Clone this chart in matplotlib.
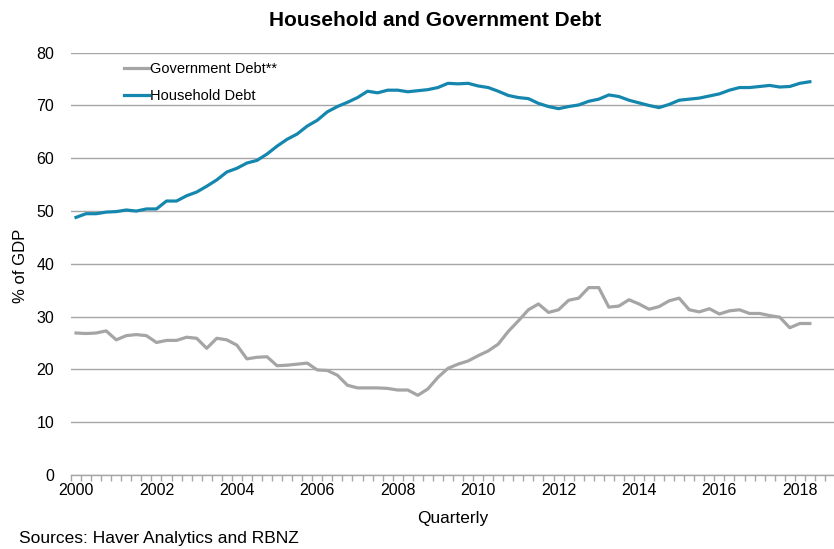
import numpy as np
import matplotlib.pyplot as plt
from matplotlib.ticker import FixedLocator

plt.rcParams['font.family'] = ['Liberation Sans', 'DejaVu Sans']

# quarterly data, 2000Q1 - 2018Q2 (% of GDP)
household = [48.8, 49.5, 49.5, 49.8, 49.9, 50.2, 50.0, 50.4, 50.4, 51.9,
             51.9, 52.9, 53.6, 54.7, 55.9, 57.4, 58.1, 59.1, 59.6, 60.8,
             62.3, 63.6, 64.6, 66.1, 67.2, 68.8, 69.8, 70.6, 71.5, 72.7,
             72.4, 72.9, 72.9, 72.6, 72.8, 73.0, 73.4, 74.2, 74.1, 74.2,
             73.7, 73.4, 72.7, 71.9, 71.5, 71.3, 70.4, 69.8, 69.4, 69.8,
             70.1, 70.8, 71.2, 72.0, 71.7, 71.0, 70.5, 70.0, 69.6, 70.2,
             71.0, 71.2, 71.4, 71.8, 72.2, 72.9, 73.4, 73.4, 73.6, 73.8,
             73.5, 73.6, 74.2, 74.5]
government = [26.9, 26.8, 26.9, 27.3, 25.6, 26.4, 26.6, 26.4, 25.1, 25.5,
              25.5, 26.1, 25.9, 24.0, 25.9, 25.6, 24.6, 22.0, 22.3, 22.4,
              20.7, 20.8, 21.0, 21.2, 19.9, 19.8, 18.9, 17.0, 16.5, 16.5,
              16.5, 16.4, 16.1, 16.1, 15.1, 16.3, 18.5, 20.2, 21.0, 21.6,
              22.6, 23.5, 24.8, 27.2, 29.2, 31.3, 32.4, 30.8, 31.3, 33.1,
              33.5, 35.5, 35.5, 31.8, 32.0, 33.2, 32.4, 31.4, 31.9, 33.0,
              33.5, 31.3, 30.9, 31.5, 30.5, 31.1, 31.3, 30.6, 30.6, 30.2,
              29.9, 27.9, 28.7, 28.7]
years = list(range(2000, 2019, 2))
n_quarters = 76  # axis runs 2000Q1 - 2018Q4

x = np.arange(len(household))

fig = plt.figure(figsize=(8.34, 5.49), dpi=100)
ax = fig.add_axes([71/834, 74/549, 763/834, (496.3-74)/549])

ax.plot(x, government, color='#a5a5a5', lw=2.3, label='Government Debt**')
ax.plot(x, household, color='#1587af', lw=2.3, label='Household Debt')

ax.set_xlim(-0.5, n_quarters - 0.6)
ax.set_ylim(0, 80)
ax.set_yticks(range(0, 81, 10))
ax.yaxis.grid(True, color='#a6a6a6', lw=1)
ax.set_axisbelow(True)

ax.set_xticks([(y - 2000) * 4 for y in years])
ax.set_xticklabels([str(y) for y in years])
ax.xaxis.set_minor_locator(FixedLocator(np.arange(-0.5, n_quarters, 1)))
ax.tick_params(axis='x', which='major', length=0, pad=6, labelsize=11.5)
ax.tick_params(axis='x', which='minor', length=4, color='#a6a6a6', width=1)
ax.tick_params(axis='y', length=0, pad=12, labelsize=11.5)

for s in ['left', 'right', 'top']:
    ax.spines[s].set_visible(False)
ax.spines['bottom'].set_color('#a6a6a6')
ax.spines['bottom'].set_linewidth(1)

fig.text(21/834, 1 - 266/549, '% of GDP', rotation=90, ha='center', va='center', fontsize=12)
fig.text(453/834, 1 - 518/549, 'Quarterly', ha='center', va='center', fontsize=12.4)
fig.text(19/834, 1 - 538/549, 'Sources: Haver Analytics and RBNZ', ha='left', va='center', fontsize=12.5)
fig.text(435/834, 1 - 21/549, 'Household and Government Debt', ha='center', va='center',
         fontsize=15, fontweight='bold')

ax.legend(loc='upper left', bbox_to_anchor=(0.052, 1.0095), frameon=False, fontsize=10.5,
          handlelength=1.7, handletextpad=0.1, labelspacing=0.9)

fig.savefig('out.png', dpi=100)
